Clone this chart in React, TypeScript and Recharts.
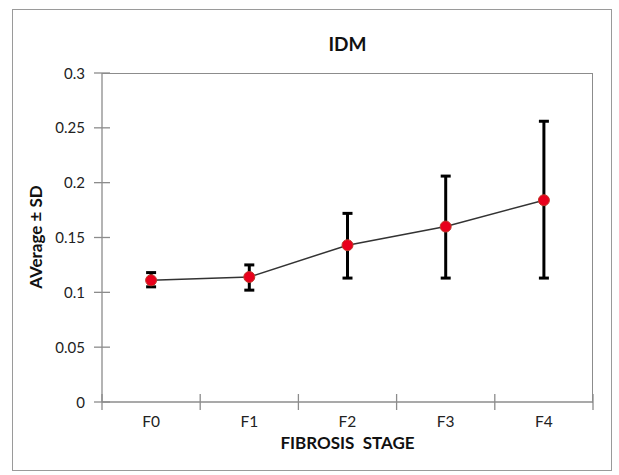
import React from "react";
import { LineChart, Line, XAxis, YAxis, ErrorBar } from "recharts";

const stages = ["F0", "F1", "F2", "F3", "F4"];
const means = [0.111, 0.114, 0.143, 0.16, 0.184];
const lowEnds = [0.105, 0.102, 0.113, 0.113, 0.113];
const highEnds = [0.118, 0.125, 0.172, 0.206, 0.256];
const yTicks = [0, 0.05, 0.1, 0.15, 0.2, 0.25, 0.3];

const AXIS = "#8c8c8c";
const FONT = "Lato, 'Liberation Sans', sans-serif";

const data = stages.map((s, i) => ({
  stage: s,
  mean: means[i],
  err: [means[i] - lowEnds[i], highEnds[i] - means[i]],
}));

const W = 619;
const H = 475;
const M = { top: 73, right: 26, bottom: 72, left: 62 };
const Y_W = 40;
const PLOT_L = M.left + Y_W;
const PLOT_W = W - PLOT_L - M.right;
const PLOT_H = H - M.top - M.bottom;
const BAND = PLOT_W / stages.length;

const XTick = (props: any) => {
  const { x, y, payload, index } = props;
  const axisY = y - 8;
  const left = x - BAND / 2;
  return (
    <g>
      <line x1={left} x2={left} y1={axisY - 8} y2={axisY + 8} stroke={AXIS} strokeWidth={1.3} />
      {index === stages.length - 1 && (
        <line x1={x + BAND / 2} x2={x + BAND / 2} y1={axisY - 8} y2={axisY + 8} stroke={AXIS} strokeWidth={1.3} />
      )}
      <text x={x} y={axisY + 25} textAnchor="middle" fontSize={15.5} fontFamily={FONT} fill="#222">
        {payload.value}
      </text>
    </g>
  );
};

const YTick = (props: any) => {
  const { x, y, payload } = props;
  const axisX = x + 8;
  return (
    <g>
      <line x1={axisX - 8} x2={axisX + 8} y1={y} y2={y} stroke={AXIS} strokeWidth={1.3} />
      <text x={axisX - 17} y={y + 5.5} textAnchor="end" fontSize={15} fontFamily={FONT} fill="#222">
        {payload.value}
      </text>
    </g>
  );
};

export default function App() {
  return (
    <div style={{ position: "absolute", left: 0, top: 0, width: W, height: H, background: "#fff" }}>
      <div
        style={{
          position: "absolute",
          left: 12,
          top: 9,
          width: 598,
          height: 460,
          border: "1px solid #9a9a9a",
        }}
      />
      <div
        style={{
          position: "absolute",
          left: PLOT_L,
          top: 33,
          width: PLOT_W,
          lineHeight: "22px",
          textAlign: "center",
          fontFamily: FONT,
          fontWeight: 700,
          fontSize: 19,
          color: "#111",
        }}
      >
        IDM
      </div>
      <div
        style={{
          position: "absolute",
          left: 35,
          top: 237,
          transform: "translate(-50%, -50%) rotate(-90deg)",
          fontFamily: FONT,
          fontWeight: 700,
          fontSize: 17,
          color: "#111",
          whiteSpace: "nowrap",
        }}
      >
        AVerage ± SD
      </div>
      <div
        style={{
          position: "absolute",
          left: PLOT_L,
          width: PLOT_W,
          top: 433,
          lineHeight: "20px",
          textAlign: "center",
          fontFamily: FONT,
          fontWeight: 700,
          fontSize: 17,
          color: "#111",
          whiteSpace: "nowrap",
        }}
      >
        FIBROSIS&nbsp;&nbsp;STAGE
      </div>
      <div
        style={{
          position: "absolute",
          left: PLOT_L,
          top: M.top,
          width: PLOT_W,
          height: PLOT_H,
          boxSizing: "border-box",
          borderTop: `1.3px solid ${AXIS}`,
          borderRight: `1.3px solid ${AXIS}`,
        }}
      />
      <div style={{ position: "absolute", left: 0, top: 0 }}>
        <LineChart width={W} height={H} data={data} margin={M}>
          <XAxis
            dataKey="stage"
            type="category"
            scale="band"
            axisLine={{ stroke: AXIS, strokeWidth: 1.3 }}
            tickLine={false}
            tickSize={8}
            tickMargin={0}
            tick={<XTick />}
            height={1}
            interval={0}
          />
          <YAxis
            domain={[0, 0.3]}
            ticks={yTicks}
            axisLine={{ stroke: AXIS, strokeWidth: 1.3 }}
            tickLine={false}
            tickSize={8}
            tickMargin={0}
            tick={<YTick />}
            width={Y_W}
            interval={0}
          />
          <Line
            dataKey="mean"
            stroke="#333"
            strokeWidth={1.5}
            isAnimationActive={false}
            dot={{ r: 5.5, fill: "#e8001c", stroke: "#c0392b", strokeWidth: 1, fillOpacity: 1 }}
            activeDot={false}
          >
            <ErrorBar dataKey="err" width={5} strokeWidth={3} stroke="#000" direction="y" />
          </Line>
        </LineChart>
      </div>
    </div>
  );
}
